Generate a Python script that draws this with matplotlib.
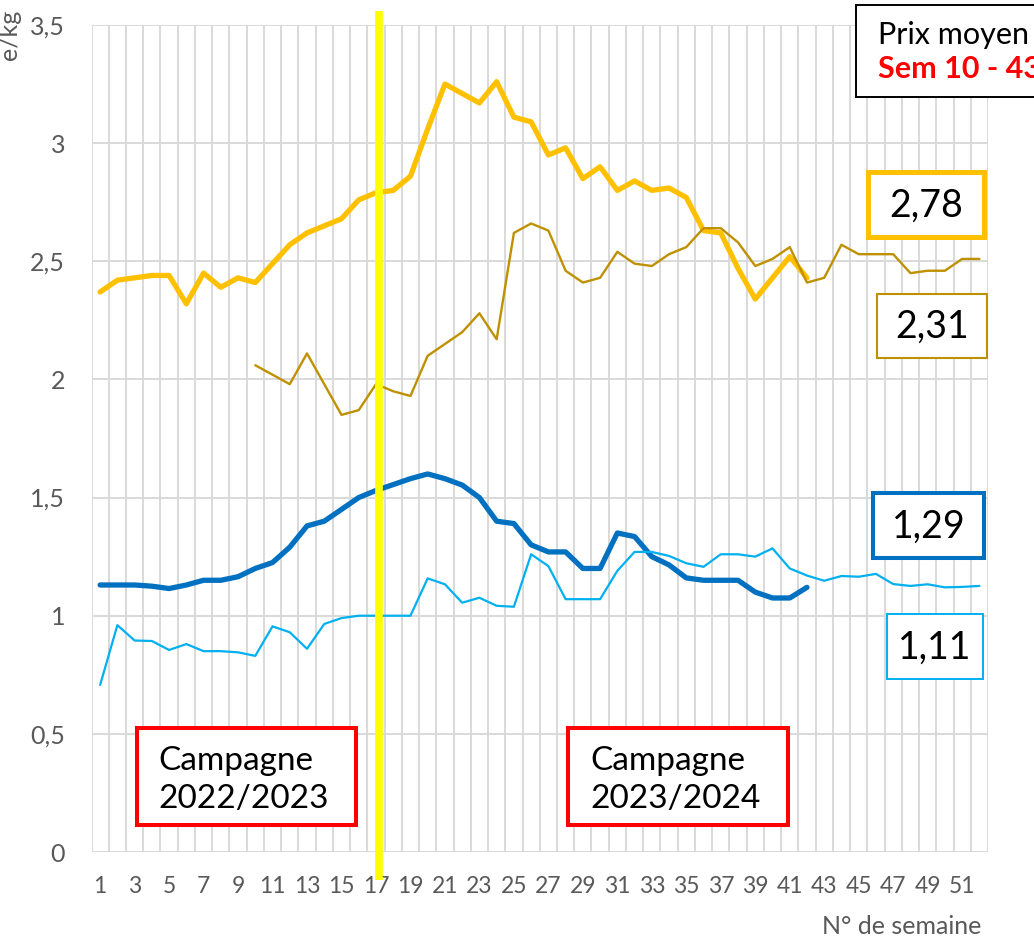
import numpy as np
import matplotlib
matplotlib.use("Agg")
import matplotlib.pyplot as plt
from matplotlib.patches import Rectangle

plt.rcParams['font.family'] = ['Lato', 'DejaVu Sans']

nan = np.nan
weeks = list(range(1, 53))

serie_orange = [2.37, 2.42, 2.43, 2.44, 2.44, 2.32, 2.45, 2.39, 2.43, 2.41, 2.49, 2.57, 2.62, 2.65,
                2.68, 2.76, 2.79, 2.80, 2.86, 3.06, 3.25, 3.21, 3.17, 3.26, 3.11, 3.09, 2.95, 2.98,
                2.85, 2.90, 2.80, 2.84, 2.80, 2.81, 2.77, 2.63, 2.62, 2.47, 2.34, 2.43, 2.52, 2.43] + [nan] * 10
serie_or_fonce = [nan] * 9 + [2.06, 2.02, 1.98, 2.11, 1.98, 1.85, 1.87, 1.98, 1.95, 1.93, 2.10, 2.15,
                              2.20, 2.28, 2.17, 2.62, 2.66, 2.63, 2.46, 2.41, 2.43, 2.54, 2.49, 2.48,
                              2.53, 2.56, 2.64, 2.64, 2.58, 2.48, 2.51, 2.56, 2.41, 2.43, 2.57, 2.53,
                              2.53, 2.53, 2.45, 2.46, 2.46, 2.51, 2.51]
serie_bleu = [1.13, 1.13, 1.13, 1.125, 1.115, 1.13, 1.15, 1.15, 1.165, 1.20, 1.225, 1.29, 1.38, 1.40,
              1.45, 1.50, 1.53, 1.555, 1.58, 1.60, 1.58, 1.553, 1.50, 1.40, 1.39, 1.30, 1.27, 1.27,
              1.20, 1.20, 1.35, 1.335, 1.25, 1.215, 1.16, 1.15, 1.15, 1.15, 1.10, 1.075, 1.075, 1.12] + [nan] * 10
serie_bleu_clair = [0.707, 0.96, 0.895, 0.893, 0.855, 0.88, 0.85, 0.85, 0.845, 0.83, 0.955, 0.93, 0.86,
                    0.965, 0.99, 1.0, 1.0, 1.0, 1.0, 1.158, 1.133, 1.055, 1.076, 1.042, 1.038, 1.26,
                    1.21, 1.07, 1.07, 1.07, 1.19, 1.27, 1.27, 1.253, 1.222, 1.207, 1.26, 1.26, 1.25,
                    1.285, 1.20, 1.17, 1.148, 1.168, 1.165, 1.177, 1.134, 1.126, 1.133, 1.12, 1.122, 1.126]

moyennes = ["2,78", "2,31", "1,29", "1,11"]
semaine_campagne = 17.15
campagnes = ["Campagne\n2022/2023", "Campagne\n2023/2024"]
y_ticks = [0, 0.5, 1, 1.5, 2, 2.5, 3, 3.5]
x_ticks = list(range(1, 53, 2))

C_OR = '#FFC000'
C_ORF = '#BF9000'
C_BL = '#0070C0'
C_BLC = '#00B0F0'
GRID = '#D9D9D9'
TXT = '#595959'

W, H = 1034, 939
fig = plt.figure(figsize=(W / 100, H / 100), dpi=100)
ax = fig.add_axes([91.5 / W, 1 - 852 / H, (988 - 91.5) / W, (852 - 25) / H])

ax.set_xlim(0.5, 52.5)
ax.set_ylim(0, 3.5)
ax.set_xticks(x_ticks)
ax.set_xticklabels([str(x) for x in x_ticks])
ax.set_xticks(np.arange(0.5, 53, 1), minor=True)
ax.set_yticks(y_ticks)
ax.set_yticklabels([('%g' % v).replace('.', ',') for v in y_ticks])
ax.grid(True, which='minor', axis='x', color=GRID, lw=1.4)
ax.grid(True, which='major', axis='y', color=GRID, lw=1.4)
ax.set_axisbelow(True)
for s in ax.spines.values():
    s.set_visible(False)
ax.tick_params(which='both', length=0)
ax.tick_params(axis='y', pad=19, labelsize=18, labelcolor=TXT)
ax.tick_params(axis='x', pad=17, labelsize=16.5, labelcolor=TXT)

kw = dict(solid_capstyle='round', solid_joinstyle='round')
ax.plot(weeks, serie_orange, color=C_OR, lw=3.8, zorder=3, **kw)
ax.plot(weeks, serie_bleu, color=C_BL, lw=3.8, zorder=3, **kw)
ax.plot(weeks, serie_or_fonce, color=C_ORF, lw=1.7, zorder=4, **kw)
ax.plot(weeks, serie_bleu_clair, color=C_BLC, lw=1.6, zorder=4, **kw)

ax.plot([semaine_campagne, semaine_campagne], [-0.12, 3.56], color='#FFFF00', lw=5.5,
        zorder=6, clip_on=False, solid_capstyle='butt')

fig.text(9 / W, 1 - 10 / H, "e/kg", rotation=90, ha='center', va='top', fontsize=18, color=TXT)
fig.text(981 / W, 1 - 926 / H, "N° de semaine", ha='right', va='center', fontsize=18, color=TXT)


def box(x0, y0, x1, y1, ec, lw):
    fig.patches.append(Rectangle((x0 / W, 1 - y1 / H), (x1 - x0) / W, (y1 - y0) / H,
                                 transform=fig.transFigure, facecolor='white', edgecolor=ec,
                                 lw=lw, zorder=5))


# value boxes
vals = [(868, 172, 984, 237, C_OR, 3.6),
        (877, 294, 987, 358, C_ORF, 1.5),
        (873, 493, 984, 558, C_BL, 2.9),
        (887, 614, 983, 679, C_BLC, 1.4)]
for (x0, y0, x1, y1, ec, lw), t in zip(vals, moyennes):
    box(x0, y0, x1, y1, ec, lw)
    fig.text((x0 + x1) / 2 / W, 1 - ((y0 + y1) / 2 + 1) / H, t, ha='center', va='center',
             fontsize=27, color='black', zorder=6)

# campagne boxes
for (x0, x1, xt), t in zip([(137, 356, 158), (568, 788, 590)], campagnes):
    box(x0, 728, x1, 825, '#FF0000', 2.9)
    l1, l2 = t.split("\n")
    fig.text(xt / W, 1 - 770 / H, l1, ha='left', va='baseline', fontsize=24, color='black', zorder=6)
    fig.text(xt / W, 1 - 808 / H, l2, ha='left', va='baseline', fontsize=24, color='black', zorder=6)

# prix moyen box
box(856, 5, 1060, 97, 'black', 1.4)
fig.text(878 / W, 1 - 44 / H, "Prix moyen", ha='left', va='baseline', fontsize=22, color='black', zorder=6)
fig.text(878 / W, 1 - 78 / H, "Sem 10 - 43", ha='left', va='baseline', fontsize=22,
         color='#FF0000', fontweight='bold', zorder=6)

fig.savefig("out.png", dpi=100)
